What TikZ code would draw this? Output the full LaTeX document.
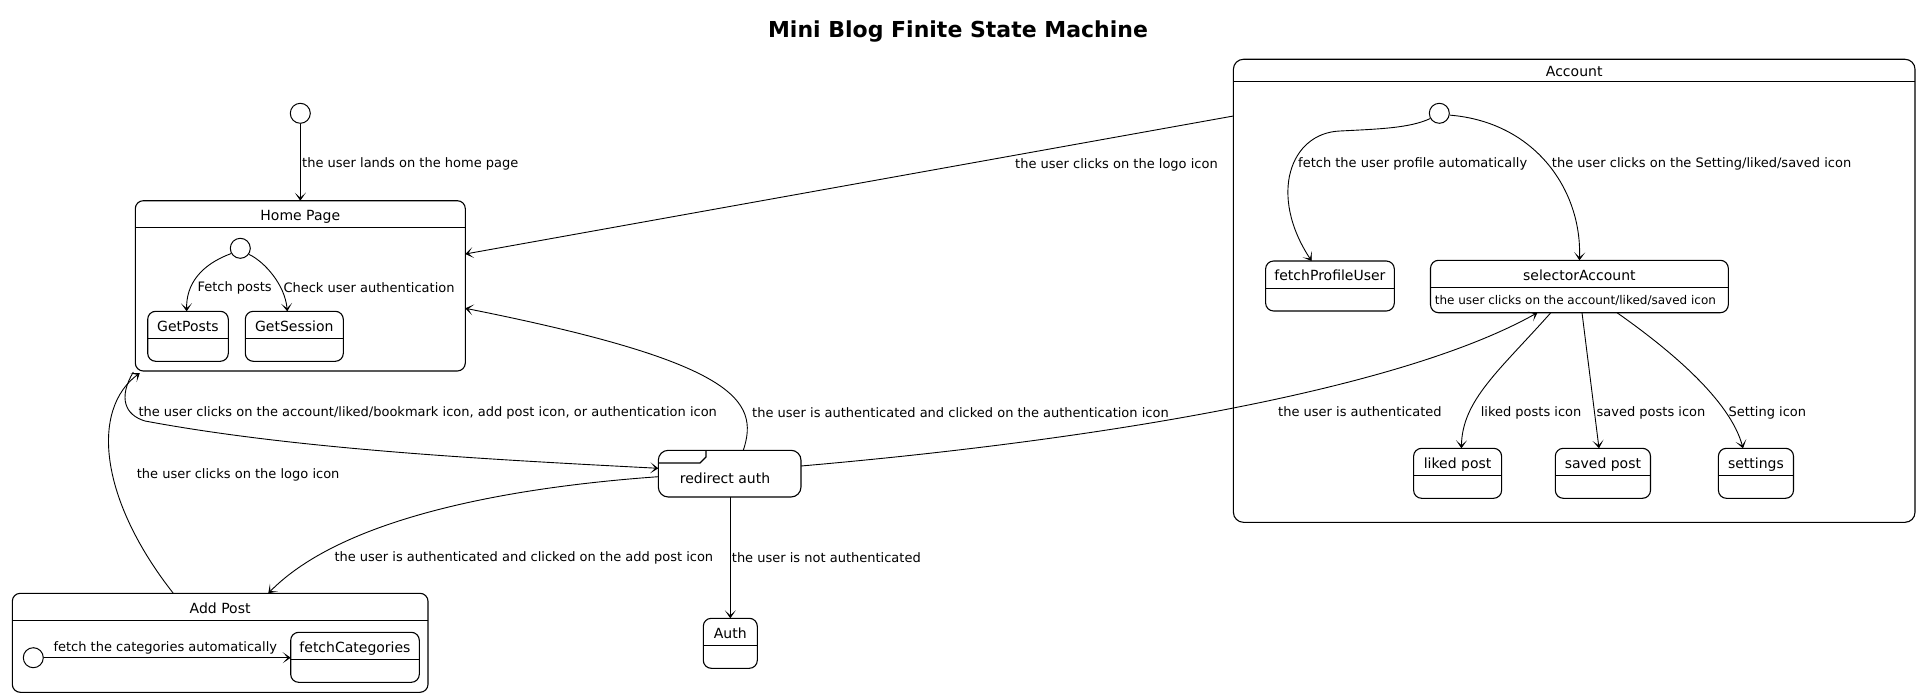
\documentclass[tikz,border=0pt]{standalone}
\usepackage{fontspec}
\setmainfont{DejaVu Sans}
\usetikzlibrary{arrows.meta,calc}
\newcommand\mkstate[8]{%
  \node[stbox, rounded corners=#8pt, minimum width={(#4-#2)*1pt}, minimum height={(#5-#3)*1pt}] (#1) at ({(#2+#4)/2},{(#3+#5)/2}) {};
  \draw[line width=1.1pt] (#1.west |- 0,#6) -- (#1.east |- 0,#6);
  \node[sttitle] (#1-t) at ({(#2+#4)/2},{(#3+#6)/2+2.5}) {#7};
}
\begin{document}
\begin{tikzpicture}[x=1pt,y=-1pt,
  stbox/.style={draw, line width=1.1pt, inner sep=0pt, outer sep=0pt},
  sttitle/.style={font=\fontsize{14}{16}\selectfont, inner sep=0pt, text height=10.5pt, text depth=3pt},
  lbl/.style={font=\fontsize{13}{15}\selectfont, inner sep=0pt, anchor=west},
  init/.style={draw, circle, line width=1pt, minimum size=20pt, inner sep=0pt},
  arr/.style={line width=0.9pt, -{Stealth[length=8pt,width=11pt,inset=5pt]}},
]
\fill[white] (0,0) rectangle (1921,698);
\useasboundingbox (0,0) rectangle (1921,698);

% title
\node[font=\bfseries\fontsize{22}{26}\selectfont, inner sep=0pt] (title) at (958,32) {Mini Blog Finite State Machine};

% states
\mkstate{hp}{135.3}{200.7}{465.3}{371}{227.3}{Home Page}{8}
\mkstate{gp}{147.7}{311.3}{228.3}{361.3}{338.3}{GetPosts}{8}
\mkstate{gs}{245.3}{311.3}{343.3}{361.3}{338.3}{GetSession}{8}
\mkstate{ap}{12.3}{593.3}{428}{692.3}{620.3}{Add Post}{8}
\mkstate{fc}{290.7}{632.3}{419.3}{682.3}{659.3}{fetchCategories}{8}
\mkstate{au}{703.3}{618.3}{757.3}{668.3}{645.7}{Auth}{8}
\mkstate{ac}{1233.4}{59.3}{1915}{522.3}{81.7}{Account}{10}
\mkstate{fp}{1265.6}{261}{1394.3}{311}{288.3}{fetchProfileUser}{8}
\mkstate{sa}{1430.5}{260.3}{1728.3}{312.7}{287.7}{selectorAccount}{8}
\mkstate{lp}{1413.6}{448.3}{1501.6}{498.3}{475.7}{liked post}{8}
\mkstate{sp}{1555.3}{448.3}{1650.5}{498.3}{475.7}{saved post}{8}
\mkstate{st}{1718.4}{448.3}{1793.5}{498.3}{475.7}{settings}{8}
\node[font=\fontsize{12}{14}\selectfont, anchor=west, inner sep=0pt] (sa-d) at (1434.6,300.5) {the user clicks on the account/liked/saved icon};

% redirect auth
\node[stbox, rounded corners=10pt, minimum width=142.7pt, minimum height=46.7pt] (ra) at (729.65,473.65) {};
\draw[line width=1.1pt] (ra.west |- 0,463) -- (700,463) -- (706,457) -- (ra.north -| 706,0);
\node[sttitle] (ra-t) at (725,479.5) {redirect auth};

% initial states
\node[init] (i1) at (300.3,113.3) {};
\node[init] (hi) at (240.3,248.3) {};
\node[init] (ai) at (33.3,657.7) {};
\node[init] (aci) at (1439.3,113.3) {};

% transitions
\draw[arr] (i1) -- (hp.north);
\node[lbl] (l1) at (302,163.5) {the user lands on the home page};

\draw[arr] (hi.210) .. controls (200,265) and (186,285) .. (gp.north -| 186.7,0);
\node[lbl] (l2) at (197.3,287.5) {Fetch posts};
\draw[arr] (hi.-35) .. controls (265,262) and (285,285) .. (gs.north -| 287.3,0);
\node[lbl] (l3) at (283.3,287.5) {Check user authentication};

\draw[arr] (ai) -- (fc.west |- ai);
\node[lbl] (l4) at (53.3,648) {fetch the categories automatically};

\draw[arr] (ap.north -| 173.3,0) .. controls (100,500) and (90,410) .. ([shift={(4.5pt,-2pt)}]hp.south west);
\node[lbl] (l5) at (136.7,475) {the user clicks on the logo icon};

\draw[arr] ([shift={(-2pt,-1pt)}]hp.south west) .. controls (118,398) and (125,415) .. (145,421) .. controls (300,450) and (500,460) .. (ra.west |- 0,468.3);
\node[lbl] (l6) at (138.3,412.5) {the user clicks on the account/liked/bookmark icon, add post icon, or authentication icon};

\draw[arr] (ra.west |- 0,476.7) .. controls (500,488) and (340,520) .. (ap.north -| 268.3,0);
\node[lbl] (l7) at (334.3,557.5) {the user is authenticated and clicked on the add post icon};

\draw[arr] (ra.south -| au.north) -- (au.north);
\node[lbl] (l8) at (731.7,557.5) {the user is not authenticated};

\draw[arr] (ra.north -| 743.3,0) .. controls (760,400) and (735,362) .. (hp.east |- 0,308.3);
\node[lbl] (l9) at (752,412.5) {the user is authenticated and clicked on the authentication icon};

\draw[arr] (ac.west |- 0,116) -- (hp.east |- 0,254);
\node[lbl] (l10) at (1015,164.5) {the user clicks on the logo icon};

\draw[arr] (ra.east |- 0,466) .. controls (1100,440) and (1400,390) .. (sa.south -| 1537.4,0);
\node[lbl] (l11) at (1278,412) {the user is authenticated};

\draw[arr] (aci.210) .. controls (1410,128) and (1380,129) .. (1340,131) .. controls (1290,133) and (1268,195) .. (fp.north -| 1311.6,0);
\node[lbl] (l12) at (1298,164) {fetch the user profile automatically};

\draw[arr] (aci.-10) .. controls (1535,122) and (1582,190) .. (sa.north);
\node[lbl] (l13) at (1551.7,164) {the user clicks on the Setting/liked/saved icon};

\draw[arr] (sa.south -| 1550.8,0) .. controls (1500,370) and (1462,400) .. (lp.north -| 1461.4,0);
\node[lbl] (l14) at (1480.6,412.5) {liked posts icon};

\draw[arr] (sa.south -| 1582,0) -- (sp.north -| 1599,0);
\node[lbl] (l15) at (1596.4,412.5) {saved posts icon};

\draw[arr] (sa.south -| 1617,0) .. controls (1670,350) and (1730,400) .. (st.north -| 1743,0);
\node[lbl] (l16) at (1728.3,412.5) {Setting icon};
\end{tikzpicture}
\end{document}
